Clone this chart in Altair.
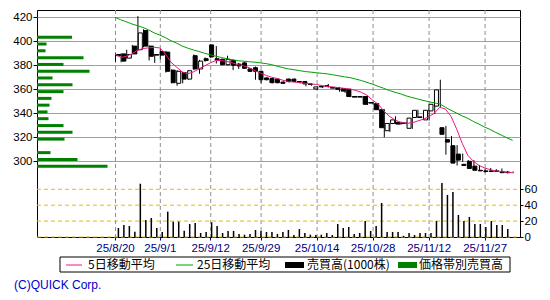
import altair as alt
import pandas as pd

# ---- data (trading-day index 0 = 2025/8/20) ----
opens = [389, 389.5, 386, 396, 393, 409, 396, 389, 391.5, 391,
         376, 365, 374, 368.5, 388, 377, 385.5, 397, 385.5, 385,
         380.5, 384, 381, 382, 377, 378, 375, 369.5, 369, 368.5,
         366, 368.5, 368.5, 366.5, 366.5, 364.5, 360.3, 362.5, 363, 361.5,
         361.5, 360.5, 360, 354, 354, 354, 349, 348, 343, 325.5,
         331.5, 332.5, 332, 327.5, 336.5, 337, 334.5, 342, 346, 328,
         318, 313, 306, 297.5, 300, 296, 292.5, 292, 292, 292,
         291.5, 291]
highs = [390, 390, 393, 397, 421, 410, 396.5, 389.5, 393.5, 392,
         376.5, 376, 374.5, 376, 389, 384.5, 386.5, 397.5, 396, 385.5,
         388, 385, 382, 383, 377.5, 379, 375.5, 370, 369.5, 369,
         366.5, 369, 369, 367, 367, 365, 362.5, 363, 364.5, 362,
         362, 361, 360.5, 354.5, 354.5, 354.5, 349.5, 348.5, 343.5, 332,
         337.5, 333, 332.5, 336.5, 343, 339, 343, 348, 368, 329.5,
         321, 313.5, 306.5, 301, 301, 297, 294, 294.5, 293.5, 294,
         292, 291.5]
lows = [383, 382.5, 385.5, 389, 392, 395, 384, 382, 385, 374,
        365, 363, 365, 368, 376, 373, 383, 386, 381.5, 380,
        380, 376, 377, 377, 374.5, 368, 365, 367.5, 365, 365,
        364.5, 365.5, 366, 365, 362.5, 363, 359.5, 361, 361.5, 360.5,
        358, 357, 353.5, 353, 353, 347, 347.5, 342.5, 320, 324.5,
        331, 330.5, 331, 327, 336, 335, 334, 339.5, 345, 305.5,
        307.5, 296.5, 299.5, 296, 293.5, 292, 290.5, 291, 291, 291,
        290, 290]
closes = [388, 383.5, 389, 389.5, 407, 396, 387.5, 388.5, 388.5, 375,
          365.5, 375, 368.5, 375.5, 377, 383.5, 384, 387, 384.5, 380.5,
          385, 380, 379.5, 377.5, 375, 375, 368, 368, 365.5, 365.5,
          365, 366.5, 366.5, 366, 364.5, 364, 362, 362, 362.5, 361,
          360, 358.5, 354, 353.5, 353.5, 347.5, 348.5, 343, 328, 331.5,
          334.5, 331, 331.5, 336, 342.5, 336.5, 342.5, 347.5, 359.5, 322.5,
          316, 298.5, 301, 296.5, 294, 292.5, 292, 291.5, 291.5, 291.5,
          290.5, 290.5]
volumes = [11.3, 15.1, 13.8, 6.7, 67, 21.4, 23.9, 11.3, 6.3, 31.9,
           19.3, 19.3, 8, 16.4, 17.6, 5, 6.3, 18.5, 13.8, 5,
           7.6, 7.6, 3.8, 2.9, 3.8, 8.8, 7.6, 6.3, 6.3, 3.8,
           6.3, 8.8, 2.5, 10, 5, 3, 2.5, 2.9, 5, 2.5,
           16.4, 11.3, 12.6, 3.8, 5, 20.1, 7.6, 13.8, 42.8, 6.3,
           6.3, 6.3, 1.5, 5, 2.5, 5, 5, 5, 20.1, 68,
           52.9, 56.7, 27.7, 20.1, 25.2, 16.4, 16.4, 12.6, 20.1, 15.1,
           15.1, 10.1]
ma5 = [389.5, 386.5, 387.5, 389.5, 392.5, 394, 394.5, 395, 394.5, 389.5,
       382.5, 378.5, 374.5, 373, 374.5, 377, 379.5, 382, 384, 384,
       383.2, 382, 380.5, 379.5, 378, 375.5, 373.5, 371.5, 370, 369,
       367.5, 366.5, 366, 365.5, 365, 364.5, 364, 363, 362.3, 362,
       361.3, 360.8, 360.2, 359, 357.5, 355, 351, 347.5, 342, 337.5,
       334.5, 332.5, 331.7, 332, 333.5, 335, 337, 340, 345, 343.5,
       337.5, 327, 315, 305, 300, 296.5, 294.5, 293, 292, 291.5,
       291, 290.5]
ma25 = [420, 418, 416.3, 414.5, 413, 411.5, 409.5, 407, 405.2, 403,
        400.5, 398.5, 396, 394.3, 392.8, 391.5, 390, 388.8, 387.6, 386.5,
        385.5, 384.6, 383.8, 383.4, 383, 382.6, 382, 381.4, 380.5, 379.2,
        378, 377, 376.3, 375.5, 374.8, 374.3, 373.8, 373.3, 372.8, 372,
        371.2, 370.4, 369.7, 368.5, 367.3, 365.8, 364.2, 362.5, 360.8, 359,
        357.5, 356.2, 354.5, 353.2, 352, 350.8, 349.7, 348.7, 347.8, 345,
        342.5, 340.2, 337.8, 335.8, 333.2, 331, 328.5, 326.5, 324, 321.8,
        319.5, 317.5]
band_prices = [406.7, 400.8, 394.9, 388.9, 383.0, 377.1, 371.2, 365.3, 359.3, 353.4,
               347.5, 341.6, 335.7, 329.7, 323.8, 317.9, 312.0, 306.1, 300.1, 294.2]
band_volumes = [70, 19, 17, 93, 53, 105, 31, 71, 53, 29,
                25, 21, 23, 53, 71, 55, 0, 27, 81, 141]
tick_days = [0, 8, 17, 26, 36, 46, 56, 66]
tick_labels = ["25/8/20", "25/9/1", "25/9/12", "25/9/29",
               "25/10/14", "25/10/28", "25/11/12", "25/11/27"]
price_ticks = [300, 320, 340, 360, 380, 400, 420]
volume_ticks = [0, 20, 40, 60]
legend_labels = ["5日移動平均", "25日移動平均", "売買高(1000株)", "価格帯別売買高"]

# ---- tables ----
df = pd.DataFrame({"day": list(range(len(closes))), "open": opens, "high": highs,
                   "low": lows, "close": closes, "volume": volumes,
                   "ma5": ma5, "ma25": ma25})
band_df = pd.DataFrame({"price": band_prices, "vol": band_volumes})
ticks_df = pd.DataFrame({"tday": tick_days})
vticks_df = pd.DataFrame({"v": volume_ticks})
one = pd.DataFrame({"a": [0]})

X_DOMAIN = [-13.93, 72.32]
P_DOMAIN = [236.9, 426.1]
V_DOMAIN = [0, 285.5]
B_DOMAIN = [0, 966]

NUMFONT = "Liberation Sans"
JPFONT = "Noto Sans CJK JP"
PINK = "#f0167f"
GREEN_MA = "#00a000"
GREEN_BAND = "#008000"
GRID = "#a0a0a0"
VGRID = "#909090"
YELLOW = "#f0b800"

label_expr = " : ".join(f"datum.value == {d} ? '{l}'" for d, l in zip(tick_days, tick_labels)) + " : ''"


def xs():
    return alt.Scale(domain=X_DOMAIN, nice=False, zero=False)


def ps():
    return alt.Scale(domain=P_DOMAIN, nice=False, zero=False)


def vs():
    return alt.Scale(domain=V_DOMAIN, nice=False)


x_axis = alt.Axis(orient="bottom", values=tick_days, labelExpr=label_expr,
                  grid=False, domain=False, tickColor="#000080", tickSize=3,
                  labelColor="#000080", labelFont=NUMFONT, labelFontSize=11.5,
                  labelPadding=2, labelFlush=False, labelOverlap=False, title=None)
y_axis = alt.Axis(orient="left", values=price_ticks, grid=True, gridColor=GRID,
                  gridOpacity=1, gridWidth=1, domain=False, tickColor="black", tickSize=4,
                  labelColor="black", labelFont=NUMFONT, labelFontSize=11.5,
                  labelPadding=1, labelOverlap=False, labelFlush=False, title=None)
v_axis = alt.Axis(orient="right", values=volume_ticks, grid=False, domain=False,
                  tickColor="black", tickSize=3, labelColor="black",
                  labelFont=NUMFONT, labelFontSize=11.5, labelPadding=1,
                  labelOverlap=False, labelFlush=False, title=None)

# axis carrier (date labels, price grid + price labels)
axes_layer = alt.Chart(df).mark_point(opacity=0).encode(
    x=alt.X("day:Q", scale=xs(), axis=x_axis, title=None),
    y=alt.Y("low:Q", scale=ps(), axis=y_axis, title=None),
)

# vertical dashed date lines (x only -> full height), half-pixel offset for a crisp line
vgrid = alt.Chart(ticks_df).mark_rule(color=VGRID, strokeWidth=1, strokeDash=[4, 3],
                                      xOffset=0.5, opacity=1).encode(
    x=alt.X("tday:Q", scale=xs(), axis=None, title=None),
)

# yellow dashed volume grid lines
hgrid_v = alt.Chart(vticks_df).mark_rule(color=YELLOW, strokeWidth=1, strokeDash=[4, 3]).encode(
    y=alt.Y("v:Q", scale=vs(), axis=None, title=None),
    x=alt.value(0), x2=alt.value(483),
)

band = alt.Chart(band_df).mark_bar(height=3, color=GREEN_BAND, orient="horizontal").encode(
    x=alt.X("vol:Q", scale=alt.Scale(domain=B_DOMAIN, nice=False), axis=None, title=None),
    y=alt.Y("price:Q", scale=ps(), axis=None, title=None),
)

vol = alt.Chart(df).mark_bar(width=1.5, color="black", orient="vertical").encode(
    x=alt.X("day:Q", scale=xs(), axis=None, title=None),
    y=alt.Y("volume:Q", scale=vs(), axis=v_axis, title=None),
)

wicks = alt.Chart(df).mark_rule(color="black", strokeWidth=1, xOffset=0.5).encode(
    x=alt.X("day:Q", scale=xs(), axis=None, title=None),
    y=alt.Y("low:Q", scale=ps(), axis=None, title=None),
    y2="high:Q",
)
bodies = alt.Chart(df).mark_bar(width=4, stroke="black", strokeWidth=1, orient="vertical").encode(
    x=alt.X("day:Q", scale=xs(), axis=None, title=None),
    y=alt.Y("open:Q", scale=ps(), axis=None, title=None),
    y2="close:Q",
    fill=alt.condition("datum.close >= datum.open", alt.value("white"), alt.value("black")),
)
line25 = alt.Chart(df).mark_line(color=GREEN_MA, strokeWidth=1).encode(
    x=alt.X("day:Q", scale=xs(), axis=None, title=None),
    y=alt.Y("ma25:Q", scale=ps(), axis=None, title=None))
line5 = alt.Chart(df).mark_line(color=PINK, strokeWidth=1).encode(
    x=alt.X("day:Q", scale=xs(), axis=None, title=None),
    y=alt.Y("ma5:Q", scale=ps(), axis=None, title=None))


# ---- legend box below the plot (pixel layout relative to plot origin) ----
def txt(label, x, y, color="black", font=JPFONT):
    return alt.Chart(one).mark_text(align="left", baseline="middle", font=font,
                                    fontSize=12, color=color).encode(
        x=alt.value(x), y=alt.value(y), text=alt.value(label))


box = alt.Chart(one).mark_rect(fill="white", stroke="black", strokeWidth=1).encode(
    x=alt.value(23), x2=alt.value(473), y=alt.value(247), y2=alt.value(262))
sw1 = alt.Chart(one).mark_rule(color=PINK, strokeWidth=1).encode(
    x=alt.value(29), x2=alt.value(45), y=alt.value(255))
sw2 = alt.Chart(one).mark_rule(color=GREEN_MA, strokeWidth=1).encode(
    x=alt.value(139), x2=alt.value(156), y=alt.value(255))
sw3 = alt.Chart(one).mark_rect(color="black").encode(
    x=alt.value(248), x2=alt.value(267), y=alt.value(252), y2=alt.value(258))
sw4 = alt.Chart(one).mark_rect(color=GREEN_BAND).encode(
    x=alt.value(361), x2=alt.value(380), y=alt.value(252), y2=alt.value(258))

chart = alt.layer(
    axes_layer, vgrid, hgrid_v, band, vol, wicks, bodies, line25, line5,
    box, sw1, txt(legend_labels[0], 51, 255), sw2, txt(legend_labels[1], 160, 255),
    sw3, txt(legend_labels[2], 270, 255), sw4, txt(legend_labels[3], 382, 255),
    txt("(C)QUICK Corp.", -23, 275, color="#0000cc", font="Liberation Sans"),
).resolve_scale(
    x="independent", y="independent"
).properties(
    width=483, height=227,
    autosize=alt.AutoSizeParams(type="none"),
    padding={"left": 37, "top": 10, "right": 30, "bottom": 63},
    background="white",
).configure_view(stroke="black", strokeWidth=1)

chart.save("out.html", embed_options={"renderer": "svg", "actions": False})
